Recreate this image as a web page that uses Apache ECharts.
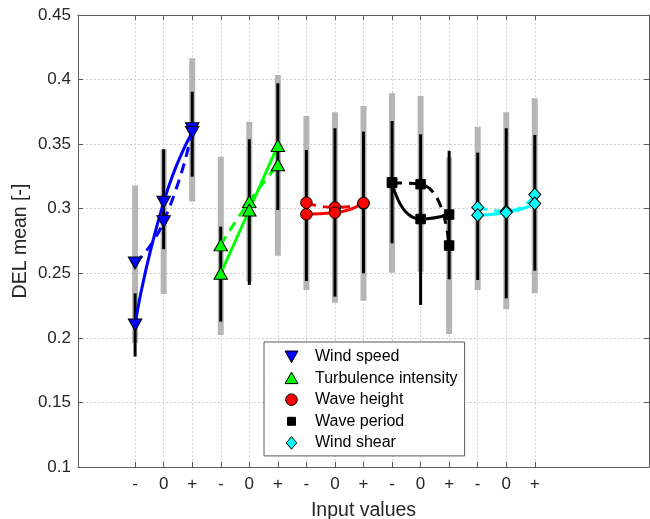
<!DOCTYPE html>
<html>
<head>
<meta charset="utf-8">
<script src="https://cdn.jsdelivr.net/npm/echarts@6/dist/echarts.min.js"></script>
<style>html,body{margin:0;padding:0;background:#fff;}#c{width:650px;height:519px;}</style>
</head>
<body>
<div id="c"></div>
<script>
// ---- data ----
const xPositions = [1, 2, 3, 4, 5, 6, 7, 8, 9, 10, 11, 12, 13, 14, 15];
const tickLabels = ['-', '0', '+', '-', '0', '+', '-', '0', '+', '-', '0', '+', '-', '0', '+'];
const groupNames = ['Wind speed', 'Turbulence intensity', 'Wave height', 'Wave period', 'Wind shear'];
const yTicks = [0.1, 0.15, 0.2, 0.25, 0.3, 0.35, 0.4, 0.45];

// solid-line series (black error bars)
const solidMean = [0.210, 0.305, 0.359, 0.250, 0.299, 0.349, 0.2957, 0.297, 0.3045, 0.3205, 0.292, 0.2955, 0.295, 0.297, 0.304];
const solidLow  = [0.1855, 0.2687, 0.3248, 0.2126, 0.241, 0.299, 0.244, 0.2319, 0.250, 0.2732, 0.2255, 0.2454, 0.2448, 0.2306, 0.252];
const solidHigh = [0.2345, 0.346, 0.3906, 0.2861, 0.3538, 0.3971, 0.3455, 0.3623, 0.3597, 0.3679, 0.3576, 0.3449, 0.3434, 0.3623, 0.3571];
// dashed-line series (grey error bars)
const dashedMean = [0.258, 0.290, 0.362, 0.272, 0.3055, 0.334, 0.3047, 0.301, 0.304, 0.320, 0.319, 0.2715, 0.301, 0.298, 0.311];
const dashedLow  = [0.196, 0.234, 0.3055, 0.2023, 0.2436, 0.2635, 0.237, 0.2272, 0.2288, 0.2505, 0.2512, 0.203, 0.237, 0.2221, 0.2345];
const dashedHigh = [0.318, 0.346, 0.4165, 0.3403, 0.3674, 0.4036, 0.3718, 0.3747, 0.3795, 0.3894, 0.3873, 0.3398, 0.3635, 0.3747, 0.3855];

// ---- styles ----
const groupColors = ['#0000ff', '#00ff00', '#ff0000', '#000000', '#00ffff'];
const groupSymbols = ['triangle', 'triangle', 'circle', 'rect', 'diamond'];
const groupSymbolSizes = [[13.5, 12], [13.5, 12], 11.5, 9.5, [12, 13]];
const groupSymbolRotate = [180, 0, 0, 0, 0];
const legendIcons = [
  'path://M0,0M14,14M0.5,1.5L13.5,1.5L7,13Z',
  'path://M0,0M14,14M7,1L13.5,12.5L0.5,12.5Z',
  'path://M0,0M14,14M1.2,7A5.8,5.8,0,1,1,12.8,7A5.8,5.8,0,1,1,1.2,7Z',
  'path://M0,0M14,14M3,3L11,3L11,11L3,11Z',
  'path://M0,0M14,14M7,0.7L12.2,7L7,13.3L1.8,7Z'
];
const FONT = '"Liberation Sans", Arial, Helvetica, sans-serif';
const TXT = '#262626';
const AXC = '#5a5a5a';

function barSeries(low, high, color, width, z) {
  return {
    type: 'custom', silent: true, z: z,
    data: xPositions.map((x, i) => [x, low[i], high[i]]),
    encode: { x: 0, y: [1, 2] },
    renderItem: function (params, api) {
      const p1 = api.coord([api.value(0), api.value(1)]);
      const p2 = api.coord([api.value(0), api.value(2)]);
      return { type: 'line', shape: { x1: p1[0], y1: p1[1], x2: p2[0], y2: p2[1] },
               style: { stroke: color, lineWidth: width } };
    }
  };
}

const series = [
  barSeries(dashedLow, dashedHigh, '#b5b5b5', 6, 1),
  barSeries(solidLow, solidHigh, '#000000', 3, 2)
];
groupNames.forEach((name, g) => {
  const idx = [3 * g, 3 * g + 1, 3 * g + 2];
  const common = {
    type: 'line', name: name, smooth: 0.6, silent: true, z: 3,
    symbol: groupSymbols[g], symbolSize: groupSymbolSizes[g], symbolRotate: groupSymbolRotate[g],
    showAllSymbol: true,
    itemStyle: { color: groupColors[g], borderColor: '#000', borderWidth: 1 },
    animation: false
  };
  series.push(Object.assign({}, common, {
    data: idx.map(i => [xPositions[i], dashedMean[i]]),
    lineStyle: { color: groupColors[g], width: 3, type: [10, 7] }
  }));
  series.push(Object.assign({}, common, {
    data: idx.map(i => [xPositions[i], solidMean[i]]),
    lineStyle: { color: groupColors[g], width: 3, type: 'solid' }
  }));
});

const chart = echarts.init(document.getElementById('c'), null, { renderer: 'canvas' });
chart.setOption({
  animation: false,
  backgroundColor: '#fff',
  grid: { left: 78, right: 1, top: 15, bottom: 52, containLabel: false, outerBoundsMode: 'none' },
  xAxis: [{
    type: 'value', min: -1, max: 19, interval: 1, position: 'bottom',
    name: 'Input values', nameLocation: 'middle', nameGap: 34,
    nameTextStyle: { fontFamily: FONT, fontSize: 19.5, color: TXT },
    axisLine: { show: true, onZero: false, lineStyle: { color: AXC, width: 1 } },
    axisTick: { show: true, inside: true, length: 5, customValues: xPositions, lineStyle: { color: AXC } },
    axisLabel: { show: true, customValues: xPositions, margin: 9, fontFamily: FONT, fontSize: 17, color: TXT,
                 formatter: v => tickLabels[xPositions.indexOf(v)] || '' },
    splitLine: { show: true, lineStyle: { color: '#d0d0d0', width: 1, type: [2, 2] } }
  }, {
    type: 'value', min: -1, max: 19, interval: 1, position: 'top',
    axisLine: { show: true, onZero: false, lineStyle: { color: AXC, width: 1 } },
    axisTick: { show: true, inside: true, length: 5, customValues: xPositions, lineStyle: { color: AXC } },
    axisLabel: { show: false }, splitLine: { show: false }
  }],
  yAxis: [{
    type: 'value', min: 0.1, max: 0.45, interval: 0.05, position: 'left',
    name: 'DEL mean [-]', nameLocation: 'middle', nameGap: 47, nameMoveOverlap: false,
    nameTextStyle: { fontFamily: FONT, fontSize: 19.5, color: TXT },
    axisLine: { show: true, onZero: false, lineStyle: { color: AXC, width: 1 } },
    axisTick: { show: true, inside: true, length: 5, lineStyle: { color: AXC } },
    axisLabel: { margin: 7, fontFamily: FONT, fontSize: 17, color: TXT,
                 formatter: v => String(Number(v.toFixed(2))) },
    splitLine: { show: true, lineStyle: { color: '#d0d0d0', width: 1, type: [2, 2] } }
  }, {
    type: 'value', min: 0.1, max: 0.45, interval: 0.05, position: 'right',
    axisLine: { show: true, onZero: false, lineStyle: { color: AXC, width: 1 } },
    axisTick: { show: true, inside: true, length: 5, lineStyle: { color: AXC } },
    axisLabel: { show: false }, splitLine: { show: false }
  }],
  legend: {
    orient: 'vertical', left: 264, top: 342,
    padding: [6.5, 7, 5, 20], itemGap: 5.6, itemWidth: 25, itemHeight: 14, itemTextGap: 12,
    backgroundColor: '#fff', borderColor: AXC, borderWidth: 1, borderRadius: 0,
    selectedMode: false,
    textStyle: { fontFamily: FONT, fontSize: 16, color: '#000', padding: [0, 0, 0, 6] },
    itemStyle: { borderColor: '#000', borderWidth: 1 },
    data: groupNames.map((n, g) => ({ name: n, icon: legendIcons[g],
      itemStyle: { color: groupColors[g], borderColor: '#000', borderWidth: 1 } }))
  },
  series: series
});
</script>
</body>
</html>
